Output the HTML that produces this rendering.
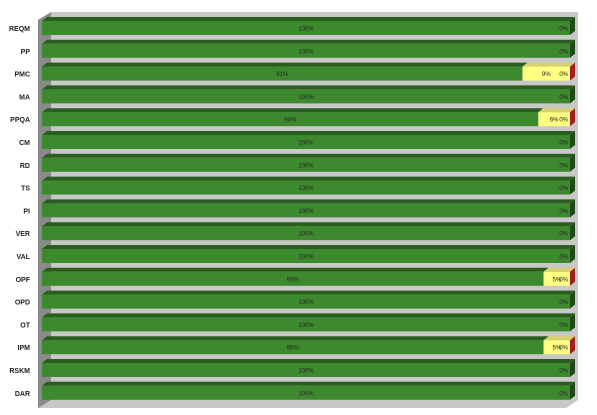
<!DOCTYPE html>
<html><head><meta charset="utf-8"><style>body{margin:0;background:#fff}svg{display:block;font-family:"Liberation Sans",sans-serif}</style></head>
<body>
<svg id="c" width="597" height="415">
<polygon points="51,12 578,12 578,400 566,408 38,408 38,20" fill="#c8c8c8"/>
<polygon points="38,20 51,12 51,400 38,408" fill="#8a8a8a"/>
<g id="bars"></g>
</svg>
<script>
const categories=["REQM","PP","PMC","MA","PPQA","CM","RD","TS","PI","VER","VAL","OPF","OPD","OT","IPM","RSKM","DAR"];
const greenVals=[100,100,91,100,94,100,100,100,100,100,100,95,100,100,95,100,100];
const yellowVals=[0,0,9,0,6,0,0,0,0,0,0,5,0,0,5,0,0];
const redVals=[0,0,0,0,0,0,0,0,0,0,0,0,0,0,0,0,0];
const svg=document.getElementById('bars');const NS='http://www.w3.org/2000/svg';
const x0=42,W=528,y0=28,step=22.8,h=14,dx=5,dy=-4;
const xs=v=>v/100*W;
function mk(t,a){const e=document.createElementNS(NS,t);for(const k in a)e.setAttribute(k,a[k]);svg.appendChild(e);return e;}
categories.forEach((c,i)=>{
 const y=y0+i*step;
 const l=mk('text',{x:30,y:y+3,'text-anchor':'end','font-size':7,'font-weight':'bold',fill:'#222'});l.textContent=c;
 
 
 let x=x0;
 const segs=[[greenVals[i],'#3d8a2e','#2a5e1f','#2a5e1f','green'],[yellowVals[i],'#ffff80','#d8d070','#c8c060','yellow'],[redVals[i],'#b02020','#801010','#801010','red']];
 let last=segs[0];
 segs.forEach(s=>{
  const w=xs(s[0]);if(w<=0)return;last=s;
  const r=mk('rect',{x:x,y:y-h/2,width:w,height:h,fill:s[1]});
  
  
  const tp=mk('polygon',{points:`${x},${y-h/2} ${x+dx},${y-h/2+dy} ${x+w+dx},${y-h/2+dy} ${x+w},${y-h/2}`,fill:s[2]});
  
  
  const t=mk('text',{x:x+w/2,y:y+2.5,'text-anchor':'middle','font-size':6,fill:'#222'});t.textContent=s[0]+'%';
  
  
  x+=w;
 });
 const sc=yellowVals[i]>0?'#a02020':'#1f4a17';
 const sf=mk('polygon',{points:`${x},${y-h/2} ${x+dx},${y-h/2+dy} ${x+dx},${y+h/2+dy} ${x},${y+h/2}`,fill:sc});
 
 
 const z=mk('text',{x:x-2,y:y+2.5,'text-anchor':'end','font-size':6,fill:'#222'});z.textContent=redVals[i]+'%';
 
 
});
</script>
</body></html>
